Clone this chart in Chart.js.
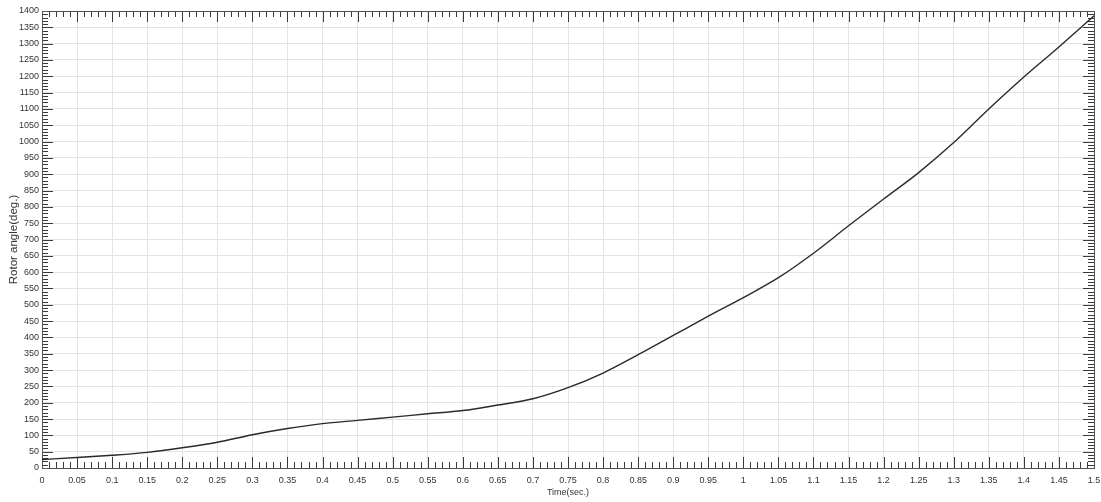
<!DOCTYPE html>
<html>
<head>
<meta charset="utf-8">
<script src="https://cdn.jsdelivr.net/npm/chart.js@4/dist/chart.umd.min.js"></script>
<style>
html,body{margin:0;padding:0;background:#fff;}
#wrap{width:1101px;height:502px;position:relative;}
</style>
</head>
<body>
<div id="wrap"><canvas id="c"></canvas></div>
<script>
// ---- data ----
const timeSec = [0, 0.05, 0.1, 0.15, 0.2, 0.25, 0.3, 0.35, 0.4, 0.45, 0.5, 0.55, 0.6, 0.65, 0.7, 0.75, 0.8, 0.85, 0.9, 0.95, 1.0, 1.05, 1.1, 1.15, 1.2, 1.25, 1.3, 1.35, 1.4, 1.45, 1.5];
const rotorAngle = [26, 32, 39, 48, 62, 79, 102, 121, 136, 146, 156, 166, 176, 193, 212, 246, 291, 347, 406, 465, 522, 583, 658, 742, 824, 905, 997, 1100, 1198, 1290, 1385];

const xTickValues = [0, 0.05, 0.1, 0.15, 0.2, 0.25, 0.3, 0.35, 0.4, 0.45, 0.5, 0.55, 0.6, 0.65, 0.7, 0.75, 0.8, 0.85, 0.9, 0.95, 1, 1.05, 1.1, 1.15, 1.2, 1.25, 1.3, 1.35, 1.4, 1.45, 1.5];
const xTickLabels = ['0', '0.05', '0.1', '0.15', '0.2', '0.25', '0.3', '0.35', '0.4', '0.45', '0.5', '0.55', '0.6', '0.65', '0.7', '0.75', '0.8', '0.85', '0.9', '0.95', '1', '1.05', '1.1', '1.15', '1.2', '1.25', '1.3', '1.35', '1.4', '1.45', '1.5'];
const yTickValues = [0, 50, 100, 150, 200, 250, 300, 350, 400, 450, 500, 550, 600, 650, 700, 750, 800, 850, 900, 950, 1000, 1050, 1100, 1150, 1200, 1250, 1300, 1350, 1400];
const yTickLabels = ['0', '50', '100', '150', '200', '250', '300', '350', '400', '450', '500', '550', '600', '650', '700', '750', '800', '850', '900', '950', '1000', '1050', '1100', '1150', '1200', '1250', '1300', '1350', '1400'];
const xMinorStep = 0.01;
const yMinorStep = 10;

const FONT = 'Liberation Sans, Arial, sans-serif';
const TICK_COLOR = '#3a3a3a';

const boxTicks = {
  id: 'boxTicks',
  beforeDatasetsDraw(chart) {
    const {ctx, chartArea: a, scales: {x, y}} = chart;
    ctx.save();
    ctx.strokeStyle = TICK_COLOR;
    ctx.lineWidth = 1;
    ctx.beginPath();
    const major = 11, minor = 6;
    const nx = Math.round((x.max - x.min) / xMinorStep);
    for (let i = 0; i <= nx; i++) {
      const v = x.min + i * xMinorStep;
      const px = Math.round(x.getPixelForValue(v)) + 0.5;
      const len = (i % 5 === 0) ? major : minor;
      ctx.moveTo(px, a.bottom); ctx.lineTo(px, a.bottom - len);
      ctx.moveTo(px, a.top); ctx.lineTo(px, a.top + len);
    }
    const ny = Math.round((y.max - y.min) / yMinorStep);
    for (let i = 0; i <= ny; i++) {
      const v = y.min + i * yMinorStep;
      const py = Math.round(y.getPixelForValue(v)) + 0.5;
      const len = (i % 5 === 0) ? major : minor;
      ctx.moveTo(a.left, py); ctx.lineTo(a.left + len, py);
      ctx.moveTo(a.right, py); ctx.lineTo(a.right - len, py);
    }
    ctx.stroke();
    ctx.strokeStyle = '#555';
    ctx.strokeRect(Math.round(a.left) + 0.5, Math.round(a.top) + 0.5, Math.round(a.right - a.left), Math.round(a.bottom - a.top));
    ctx.restore();
  }
};

new Chart(document.getElementById('c'), {
  type: 'line',
  data: {
    labels: timeSec,
    datasets: [{
      data: timeSec.map((t, i) => ({x: t, y: rotorAngle[i]})),
      borderColor: '#2a2a2a',
      borderWidth: 1.4,
      pointRadius: 0,
      fill: false,
      cubicInterpolationMode: 'monotone'
    }]
  },
  options: {
    responsive: true,
    maintainAspectRatio: false,
    animation: false,
    devicePixelRatio: 1,
    layout: {padding: {top: 11, right: 7, left: 0, bottom: 0}},
    plugins: {legend: {display: false}, tooltip: {enabled: false}},
    scales: {
      x: {
        type: 'linear',
        min: 0, max: 1.5,
        afterBuildTicks: s => { s.ticks = xTickValues.map(v => ({value: v})); },
        afterFit: s => { s.height = 34; s.paddingRight = 0; s.paddingLeft = 0; },
        ticks: {
          autoSkip: false, maxRotation: 0, minRotation: 0, padding: 7,
          color: '#333', font: {family: FONT, size: 9},
          callback: (v, i) => xTickLabels[i]
        },
        grid: {color: '#e4e4e4', drawTicks: false, lineWidth: 1},
        border: {display: false},
        title: {display: true, text: 'Time(sec.)', color: '#333', font: {family: FONT, size: 9}, padding: {top: 0, bottom: 4}}
      },
      y: {
        type: 'linear',
        min: 0, max: 1400,
        afterBuildTicks: s => { s.ticks = yTickValues.map(v => ({value: v})); },
        afterFit: s => { s.width = 42; s.paddingTop = 0; s.paddingBottom = 0; },
        ticks: {
          autoSkip: false, padding: 3,
          color: '#333', font: {family: FONT, size: 9},
          callback: (v, i) => yTickLabels[i]
        },
        grid: {color: '#e4e4e4', drawTicks: false, lineWidth: 1},
        border: {display: false},
        title: {display: true, text: 'Rotor angle(deg.)', color: '#333', font: {family: FONT, size: 11.5}, padding: {top: 7, bottom: 0}}
      }
    }
  },
  plugins: [boxTicks]
});
</script>
</body>
</html>
